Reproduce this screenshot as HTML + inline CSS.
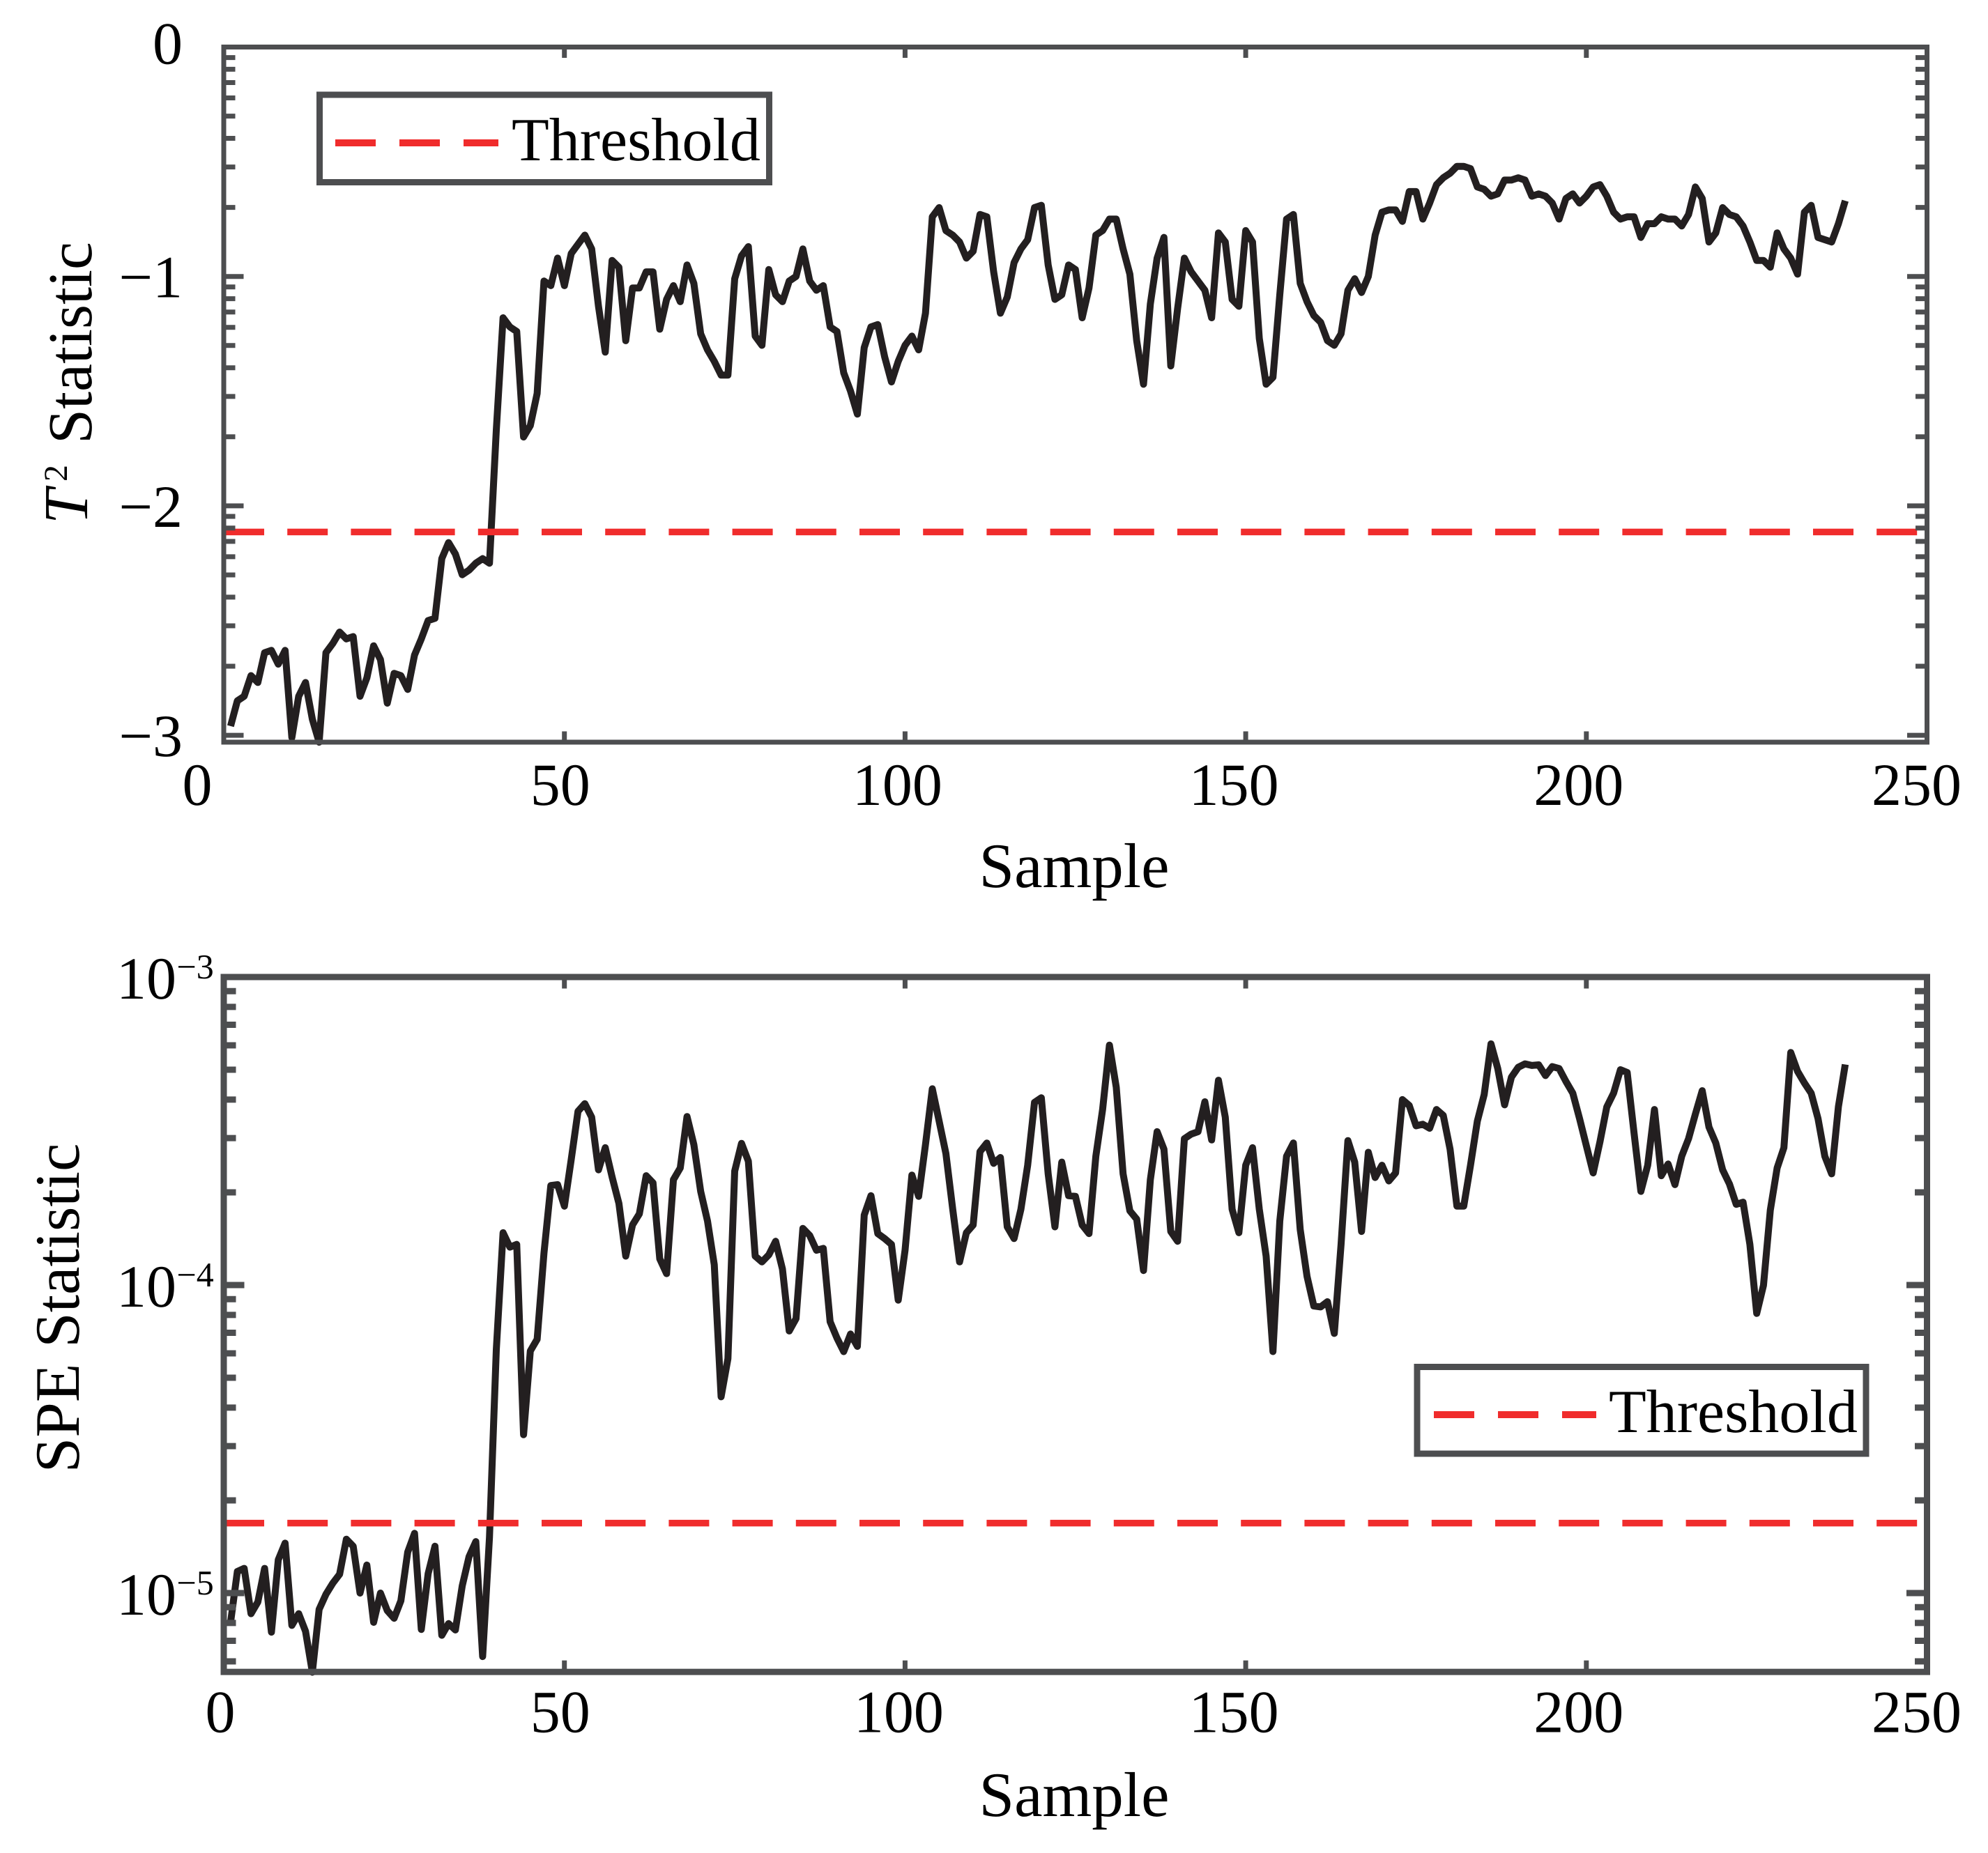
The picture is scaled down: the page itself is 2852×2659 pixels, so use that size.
<!DOCTYPE html>
<html lang="en">
<head>
<meta charset="utf-8">
<title>T2 and SPE Statistic Charts</title>
<style>
html,body{margin:0;padding:0;background:#fff;}
svg{display:block;}
text{font-family:"Liberation Serif","Times New Roman",serif;fill:#000;font-kerning:none;text-rendering:geometricPrecision;}
</style>
</head>
<body>
<svg id="figure" xmlns="http://www.w3.org/2000/svg" width="2852" height="2659" viewBox="0 0 2852 2659">
  <rect x="0" y="0" width="2852" height="2659" fill="#ffffff"/>
  <g id="top-chart"></g>
  <g id="bottom-chart"></g>
  <text x="131" y="752" font-size="90" transform="rotate(-90 131 752)"><tspan font-style="italic" x="131" y="746">T</tspan><tspan font-size="48" x="192" y="717">2</tspan><tspan x="246" y="752">Statistic</tspan></text>
  <text x="1541" y="1273" font-size="91" text-anchor="middle">Sample</text>
  <text x="113" y="1877" font-size="91" text-anchor="middle" transform="rotate(-90 113 1877)">SPE Statistic</text>
  <text x="1541" y="2606" font-size="91" text-anchor="middle">Sample</text>
  <g>
    <rect x="458.5" y="136" width="645" height="125.5" fill="#ffffff" stroke="#4d4e50" stroke-width="9"/>
    <line x1="481" y1="205" x2="715" y2="205" stroke="#f02c2c" stroke-width="10" stroke-dasharray="58 34"/>
    <text x="734" y="230" font-size="88">Threshold</text>
  </g>
  <g>
    <rect x="2033" y="1961.5" width="644" height="124.5" fill="#ffffff" stroke="#4d4e50" stroke-width="9"/>
    <line x1="2057" y1="2030" x2="2290" y2="2030" stroke="#f02c2c" stroke-width="10" stroke-dasharray="58 34"/>
    <text x="2308" y="2055" font-size="88">Threshold</text>
  </g>
</svg>
<script>
// T2 statistic, log10 values for samples 1..238
const t2Log10 = [
-2.96,-2.85,-2.83,-2.74,-2.77,-2.64,-2.63,-2.69,-2.63,-3.01,
-2.83,-2.77,-2.93,-3.03,-2.64,-2.60,-2.55,-2.58,-2.57,-2.83,
-2.75,-2.61,-2.67,-2.86,-2.73,-2.74,-2.80,-2.65,-2.58,-2.50,
-2.49,-2.23,-2.16,-2.21,-2.30,-2.28,-2.25,-2.23,-2.25,-1.67,
-1.18,-1.22,-1.24,-1.70,-1.65,-1.51,-1.02,-1.04,-0.92,-1.04,
-0.90,-0.86,-0.82,-0.88,-1.13,-1.33,-0.93,-0.96,-1.28,-1.05,
-1.05,-0.98,-0.98,-1.23,-1.10,-1.04,-1.11,-0.95,-1.03,-1.25,
-1.32,-1.37,-1.43,-1.43,-1.01,-0.91,-0.87,-1.26,-1.30,-0.97,
-1.08,-1.11,-1.02,-1.00,-0.88,-1.02,-1.06,-1.04,-1.22,-1.24,
-1.42,-1.50,-1.60,-1.31,-1.22,-1.21,-1.35,-1.46,-1.37,-1.30,
-1.26,-1.32,-1.16,-0.74,-0.70,-0.80,-0.82,-0.85,-0.92,-0.89,
-0.73,-0.74,-0.98,-1.16,-1.09,-0.94,-0.88,-0.84,-0.70,-0.69,
-0.95,-1.10,-1.08,-0.95,-0.97,-1.18,-1.05,-0.82,-0.80,-0.75,
-0.75,-0.88,-0.99,-1.28,-1.47,-1.12,-0.92,-0.83,-1.39,-1.14,
-0.92,-0.98,-1.02,-1.06,-1.18,-0.81,-0.85,-1.10,-1.13,-0.80,
-0.85,-1.27,-1.47,-1.44,-1.08,-0.75,-0.73,-1.03,-1.11,-1.17,
-1.20,-1.28,-1.30,-1.25,-1.06,-1.01,-1.07,-1.00,-0.82,-0.72,
-0.71,-0.71,-0.76,-0.63,-0.63,-0.75,-0.68,-0.60,-0.57,-0.55,
-0.52,-0.52,-0.53,-0.61,-0.62,-0.65,-0.64,-0.58,-0.58,-0.57,
-0.58,-0.65,-0.64,-0.65,-0.68,-0.75,-0.66,-0.64,-0.68,-0.65,
-0.61,-0.60,-0.65,-0.72,-0.75,-0.74,-0.74,-0.83,-0.77,-0.77,
-0.74,-0.75,-0.75,-0.78,-0.73,-0.61,-0.66,-0.85,-0.81,-0.70,
-0.73,-0.74,-0.78,-0.85,-0.93,-0.93,-0.96,-0.81,-0.88,-0.92,
-0.99,-0.72,-0.69,-0.83,-0.84,-0.85,-0.77,-0.67
];
// SPE statistic, log10 values for samples 1..238
const speLog10 = [
-5.095,-4.930,-4.920,-5.067,-5.029,-4.920,-5.127,-4.892,-4.838,-5.105,
-5.067,-5.124,-5.257,-5.053,-5.004,-4.968,-4.939,-4.825,-4.848,-5.000,
-4.909,-5.095,-5.000,-5.057,-5.082,-5.025,-4.867,-4.806,-5.118,-4.937,
-4.848,-5.137,-5.099,-5.120,-4.977,-4.882,-4.833,-5.206,-4.819,-4.210,
-3.830,-3.877,-3.868,-4.486,-4.214,-4.176,-3.896,-3.677,-3.674,-3.744,
-3.592,-3.436,-3.411,-3.455,-3.626,-3.554,-3.649,-3.735,-3.906,-3.805,
-3.769,-3.645,-3.668,-3.915,-3.963,-3.658,-3.620,-3.453,-3.544,-3.696,
-3.792,-3.934,-4.363,-4.239,-3.630,-3.540,-3.598,-3.906,-3.925,-3.902,
-3.858,-3.948,-4.149,-4.109,-3.816,-3.839,-3.887,-3.881,-4.119,-4.172,
-4.216,-4.159,-4.199,-3.773,-3.710,-3.833,-3.849,-3.868,-4.049,-3.887,
-3.643,-3.712,-3.544,-3.363,-3.468,-3.573,-3.754,-3.925,-3.830,-3.805,
-3.567,-3.539,-3.605,-3.586,-3.811,-3.849,-3.754,-3.611,-3.407,-3.392,
-3.639,-3.811,-3.601,-3.710,-3.712,-3.805,-3.833,-3.582,-3.430,-3.221,
-3.358,-3.639,-3.759,-3.786,-3.953,-3.658,-3.502,-3.559,-3.826,-3.858,
-3.525,-3.510,-3.502,-3.405,-3.529,-3.335,-3.455,-3.754,-3.830,-3.611,
-3.554,-3.754,-3.906,-4.216,-3.792,-3.582,-3.539,-3.820,-3.972,-4.068,
-4.071,-4.054,-4.157,-3.868,-3.531,-3.601,-3.826,-3.569,-3.651,-3.611,
-3.662,-3.636,-3.398,-3.417,-3.483,-3.478,-3.491,-3.430,-3.449,-3.559,
-3.744,-3.744,-3.611,-3.468,-3.382,-3.217,-3.297,-3.415,-3.325,-3.293,
-3.282,-3.287,-3.285,-3.320,-3.291,-3.297,-3.339,-3.377,-3.459,-3.548,
-3.636,-3.535,-3.422,-3.377,-3.301,-3.310,-3.506,-3.696,-3.611,-3.430,
-3.645,-3.607,-3.674,-3.582,-3.525,-3.445,-3.369,-3.487,-3.539,-3.626,
-3.672,-3.738,-3.731,-3.868,-4.092,-4.001,-3.757,-3.620,-3.554,-3.245,
-3.306,-3.344,-3.377,-3.459,-3.582,-3.639,-3.421,-3.284
];
const firstSample = 1;
const t2ThresholdLog10 = -2.114;
const speThresholdLog10 = -4.773;
const xTicks = [0, 50, 100, 150, 200, 250];
const t2YTicks = [0, -1, -2, -3];
const t2YTickLabels = ['0', '\u22121', '\u22122', '\u22123'];
const speYTicks = [-3, -4, -5];
const speYTickExponents = ['\u22123', '\u22124', '\u22125'];
const minorMultipliers = [2, 3, 4, 5, 6, 7, 8, 9];
const t2LabelNudge = [-38, -6, -11, -17, -11, -15];
const speLabelNudge = [-5, -6, -9, -17, -11, -15];

const NS = 'http://www.w3.org/2000/svg';
const FRAME = '#4d4e50';
const xLeft = 321, xRight = 2764.5;
function xScale(v) { return xLeft + (xRight - xLeft) * v / 250; }
function make(parent, tag, attrs, txt) {
  const el = document.createElementNS(NS, tag);
  for (const k in attrs) el.setAttribute(k, attrs[k]);
  if (txt !== undefined) el.textContent = txt;
  parent.appendChild(el);
  return el;
}

function drawChart(opts) {
  const g = document.getElementById(opts.groupId);
  const y = function (v) { return opts.top + (opts.yMax - v) * opts.unit; };
  const bottom = y(opts.yMin);
  const sw = opts.frameWidth;

  const pts = opts.values.map(function (v, i) {
    return xScale(firstSample + i).toFixed(1) + ',' + y(v).toFixed(1);
  }).join(' ');
  const series = make(g, 'polyline', {points: pts, fill: 'none', stroke: '#231f20', 'stroke-width': 10, 'stroke-linejoin': 'round'});
  
  

  const thr = make(g, 'line', {x1: xScale(0), y1: y(opts.threshold), x2: xScale(250), y2: y(opts.threshold), stroke: '#f02c2c', 'stroke-width': 9.5, 'stroke-dasharray': '58 33.2'});
  
  

  // x ticks, top and bottom edge
  xTicks.forEach(function (t, i) {
    if (t !== 0 && t !== 250) {
      const tb = make(g, 'line', {x1: xScale(t), y1: bottom, x2: xScale(t), y2: bottom - sw / 2 - 12, stroke: FRAME, 'stroke-width': 7});
      
      
      const tt = make(g, 'line', {x1: xScale(t), y1: opts.top, x2: xScale(t), y2: opts.top + sw / 2 + 12, stroke: FRAME, 'stroke-width': 7});
      
      
    }
    const lab = make(g, 'text', {x: xScale(t) + opts.labelNudge[i], y: opts.xLabelBaseline, 'font-size': 86, 'text-anchor': 'middle'}, String(t));
    
    
  });

  // y ticks, both edges, major and log minor
  function yTick(v, len, wid, kind) {
    [[xLeft, 1], [xRight, -1]].forEach(function (side) {
      const tk = make(g, 'line', {x1: side[0], y1: y(v), x2: side[0] + side[1] * (sw / 2 + len), y2: y(v), stroke: FRAME, 'stroke-width': wid});
      
      
    });
  }
  opts.majors.forEach(function (v) { if (v < opts.yMax) yTick(v, 25, opts.tickWidth, 'major'); });
  for (let d = Math.floor(opts.yMin); d < opts.yMax; d++) {
    minorMultipliers.forEach(function (k) {
      const v = d + Math.log10(k);
      if (v > opts.yMin && v < opts.yMax) yTick(v, 13, opts.tickWidth, 'minor');
    });
  }

  const frame = make(g, 'rect', {x: xLeft, y: opts.top, width: xRight - xLeft, height: bottom - opts.top, fill: 'none', stroke: FRAME, 'stroke-width': sw});
  
  
  opts.yLabels(g, y);
}

drawChart({
  groupId: 'top-chart', prefix: 't2', values: t2Log10, threshold: t2ThresholdLog10,
  top: 67.5, unit: 329.2, yMax: 0, yMin: -3.03, frameWidth: 7, tickWidth: 7,
  xLabelBaseline: 1155, labelNudge: t2LabelNudge, majors: t2YTicks,
  yLabels: function (g, y) {
    t2YTicks.forEach(function (t, i) {
      const lab = make(g, 'text', {x: 262, y: y(t) + (t === 0 ? 24 : 30), 'font-size': 86, 'text-anchor': 'end'}, t2YTickLabels[i]);
      
      
    });
  }
});

drawChart({
  groupId: 'bottom-chart', prefix: 'spe', values: speLog10, threshold: speThresholdLog10,
  top: 1402, unit: 442, yMax: -3, yMin: -5.256, frameWidth: 9, tickWidth: 9,
  xLabelBaseline: 2485.5, labelNudge: speLabelNudge, majors: speYTicks,
  yLabels: function (g, y) {
    speYTicks.forEach(function (t, i) {
      const lab = make(g, 'text', {x: 167, y: y(t) + 31, 'font-size': 86});
      
      
      make(lab, 'tspan', {}, '10');
      make(lab, 'tspan', {'font-size': 50, dx: 0.5, dy: -29}, speYTickExponents[i]);
    });
  }
});
</script>
</body>
</html>
